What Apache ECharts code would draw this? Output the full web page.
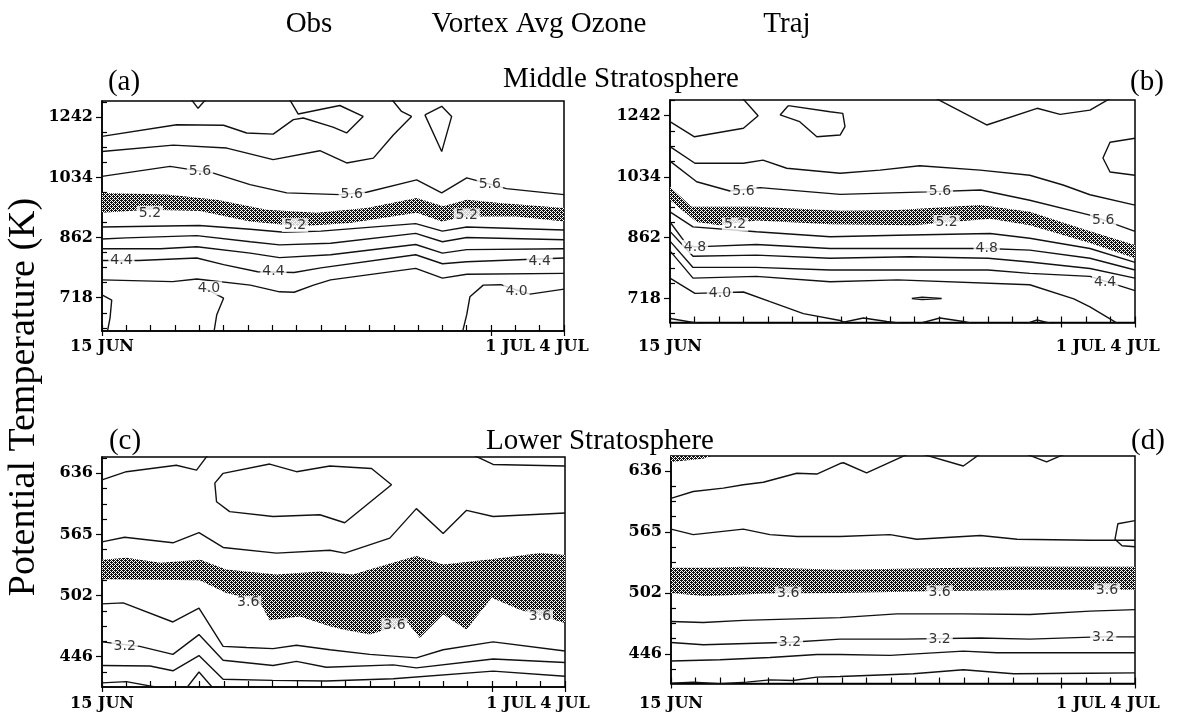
<!DOCTYPE html>
<html>
<head>
<meta charset="utf-8">
<script src="https://cdn.jsdelivr.net/npm/echarts@6/dist/echarts.min.js"></script>
<style>
  html, body { margin: 0; padding: 0; background: #fff; }
  #chart { width: 1181px; height: 717px; }
</style>
</head>
<body>
<div id="chart"></div>
<script>
// Time axis: days since 15 June; vertical axis: potential temperature (K), log-spaced.
const dayTicks = [0, 16, 19];
const dayTickLabels = ['15 JUN', '1 JUL', '4 JUL'];
const thetaTicksMiddle = [718, 862, 1034, 1242];
const thetaTicksLower = [446, 502, 565, 636];

// ---- (a) Obs, middle stratosphere: contour lines as [day, theta] ----
const obsMidLines = [
  [[3.6,1320],[3.95,1276],[4.35,1320]],
  [[0,1172],[3.07,1214],[5.0,1212],[5.95,1184],[7.04,1180],[7.87,1233],[8.28,1239],[9.5,1205],[10.06,1184],[10.74,1245],[9.78,1287],[8.07,1254],[7.66,1320]],
  [[0,1119],[2.93,1141],[5.13,1131],[7.04,1092],[8.96,1122],[10.06,1081],[11.16,1097],[11.98,1177],[12.73,1245],[12.32,1264],[11.84,1320]],
  [[13.28,1251],[13.97,1284],[14.38,1245],[13.97,1119],[13.28,1251]],
  [[0,1038],[2.8,1070],[4.58,1048],[6.09,1012],[7.6,987],[9.79,982],[10.88,989],[12.94,1027],[13.97,987],[15.0,1033],[16.63,1000],[19,982]],
  [[0,890],[4,894],[6.1,884],[7.5,876],[9,879],[12.9,899],[14,879],[15,890],[19,882]],
  [[0,858],[1,861],[3.9,867],[6.1,851],[7.3,843],[9.4,847],[12.9,873],[14,851],[15,862],[19,856]],
  [[0,833],[2.4,833],[3.9,838],[6.1,822],[7.3,811],[9.4,818],[12.9,844],[14,822],[15,831],[19,833]],
  [[0,804],[1.5,804],[3.9,810],[5,794],[6.4,777],[7.9,775],[9,786],[12.9,818],[14,796],[15,801],[19,810]],
  [[0,758],[2.9,754],[3.9,760],[6.1,746],[7.3,731],[7.9,730],[8.7,746],[9.4,758],[12.9,785],[14,762],[15,771],[19,773]],
  [[14.79,640],[15.0,682],[15.13,720],[15.68,746],[16.4,747],[17.05,735],[17.6,726],[19,737]],
  [[4.25,738],[5.0,717],[4.72,682],[4.58,640]],
  [[0,724],[0.4,713],[0.33,675],[0.19,640]]
];
const obsMidBandTop = [[0,987],[2.66,982],[4.72,967],[6.77,938],[8.83,929],[10.88,943],[12.94,972],[14.03,948],[15,967],[16.37,957],[19,943]];
const obsMidBandBottom = [[0,929],[1.97,938],[4.03,934],[6.09,905],[8.14,892],[10.2,901],[12.94,929],[13.97,905],[15,919],[17.05,919],[19,905]];
const obsMidLabels = [
  [4.03,1054,'5.6'],[10.27,984,'5.6'],[15.95,1013,'5.6'],
  [1.97,929,'5.2'],[7.94,895,'5.2'],[15,922,'5.2'],
  [0.8,804,'4.4'],[7.05,777,'4.4'],[18,803,'4.4'],
  [4.4,739,'4.0'],[17.05,733,'4.0']
];

// ---- (b) Traj, middle stratosphere ----
const trajMidLines = [
  [[2.86,1320],[3.6,1242],[3.0,1196],[1.0,1166],[0,1220]],
  [[4.83,1280],[4.5,1245],[5.3,1220],[6.0,1166],[6.95,1172],[7.15,1202],[7.06,1251],[6.54,1257],[4.83,1280]],
  [[10.63,1320],[12.94,1208],[15,1270],[15.94,1247],[17.16,1263],[18.2,1320]],
  [[19,1161],[17.98,1147],[17.69,1094],[17.98,1049],[19,1039]],
  [[0,1132],[1.02,1077],[3.0,1077],[3.8,1087],[4.77,1061],[6.95,1045],[8.58,1055],[10.2,1069],[12.67,1055],[14.7,1039],[16.06,1009],[17.16,980],[19,950]],
  [[0,1084],[1.09,1019],[2.45,991],[3.68,1001],[6.95,981],[10.5,988.5],[12.7,994],[14.7,964],[17.16,922],[19,878]],
  [[0,931],[0.94,890],[3.53,877],[6.54,864],[9.3,868],[13.08,872.5],[14.7,860],[17.16,834],[19,800]],
  [[0,903],[0.7,842.5],[1.02,838],[3.53,844],[6.54,834],[12.94,834],[14.7,830],[17.16,810],[19,782]],
  [[0,878],[0.94,815],[3.53,817.5],[6.54,810],[9.8,813.5],[13,810],[14.7,801],[17.16,785.5],[19,763]],
  [[0,852.6],[0.94,788],[3.53,788],[6.54,782],[13,782],[14.7,774],[17.16,767],[19,735]],
  [[0,828],[0.94,763],[3.53,767],[6.54,755],[9.3,759],[14.7,748],[16.5,717],[17.16,700],[18.5,660]],
  [[0,763],[1.02,729],[3.0,732],[4.09,711],[5.45,686],[6.95,672],[7.5,660]],
  [[0,676],[1.7,662]],
  [[6.54,663],[7.9,677],[8.86,670],[9.94,663],[11.03,677],[11.99,670],[12.94,660],[14.2,660],[15.0,673],[15.9,662]],
  [[9.88,718],[10.3,720.5],[11.1,718],[10.3,715.5],[9.88,718]]
];
const trajMidBandTop = [[0,1004],[0.88,945],[3.53,945],[6.95,934],[9.3,936],[12.67,950],[14.7,931],[17.16,878],[19,843]];
const trajMidBandBottom = [[0,964],[1.09,903],[2.04,894],[3.53,907],[6.54,897],[9.94,894],[13.08,912],[14.7,894],[17.16,848],[19,810]];
const trajMidLabels = [
  [3.0,991,'5.6'],[11.03,990,'5.6'],[17.7,908,'5.6'],
  [2.66,896,'5.2'],[11.3,903,'5.2'],
  [1.02,838,'4.8'],[12.94,834,'4.8'],
  [17.78,753,'4.4'],
  [2.04,729,'4.0']
];

// ---- (c) Obs, lower stratosphere ----
const obsLowLines = [
  [[0,628],[1,638],[3.05,646],[3.88,640],[4.49,665]],
  [[4.97,636],[6.88,647.5],[7.98,638],[9.35,645],[11.06,642],[11.88,622],[9.96,578],[8.94,587],[7.02,585],[5.24,590.5],[4.7,602],[4.63,624],[4.97,636]],
  [[14.82,665],[16.05,647],[19,645]],
  [[0,557],[0.93,562],[2.91,556],[3.98,567],[4.97,551],[7.16,545],[9.35,548],[9.96,545],[11.81,561],[12.9,594],[14.0,566],[14.96,592],[16.05,585],[19,589]],
  [[0,494],[0.87,495],[2.91,477],[3.98,490],[4.97,455],[5.93,454],[7.02,453],[7.98,456],[9.35,452],[10.99,448],[12.9,445],[14.0,452],[16.05,459],[19,451]],
  [[0,459],[1.55,455],[2.91,448],[3.98,465.5],[4.97,443],[7.02,438.5],[7.98,442],[9.2,437],[11.95,439],[12.9,436.5],[16.05,444],[19,441]],
  [[0,438.5],[1.97,438],[2.91,434],[3.98,447],[4.97,427],[7,426],[9.2,425.5],[11.95,427.4],[16.05,433.7],[19,429.5]],
  [[0,424],[1,425],[2.91,418]],
  [[3.4,418],[3.98,433],[4.63,418]]
];
const obsLowBandTop = [[0,538],[1,540],[2.4,535],[4.04,538],[5.1,528],[7.16,523],[8.94,526],[10.3,523],[11.68,533],[12.9,542],[14,533],[15.8,538],[18,545],[19,543]];
const obsLowBandBottom = [[0,518],[4.01,517],[5.1,504.5],[5.93,500],[6.54,493],[6.88,478.5],[8.12,482],[9.35,473],[9.89,470],[10.99,465.5],[12.56,476],[13.04,462.5],[14.0,484],[14.96,470],[15.99,500],[17.15,488.5],[19,476]];
const obsLowLabels = [
  [6.0,495,'3.6'],[12.0,474,'3.6'],[17.97,482,'3.6'],
  [0.93,455,'3.2']
];

// ---- (d) Traj, lower stratosphere ----
const trajLowLines = [
  [[0,603],[0.91,611],[2.14,615],[2.96,619],[3.78,622],[5.15,633],[5.97,632],[6.92,645],[7.06,646],[8.01,633.5],[9.92,660]],
  [[9.95,660],[11.97,642],[12.79,660]],
  [[14.3,660],[15.38,647],[16.34,660]],
  [[19,577.5],[18.3,574],[18.18,557],[18.47,550],[19,549]],
  [[0,568],[0.91,562],[2.96,568],[4.05,562],[5.15,560],[6.92,560],[8.97,562],[10.06,557],[12.67,561],[14.17,557],[17.16,556],[19,556]],
  [[0,475],[1.32,474],[2.96,476],[6.92,478.5],[9.24,482],[11.97,482],[14.7,481.5],[17.16,484.6],[19,486]],
  [[0,456],[1.32,454],[4.9,456.3],[6.92,459],[9.5,459],[12.67,460],[14.7,459],[17.5,461],[19,461]],
  [[0,440],[2.0,441],[4.05,443],[5.97,445.6],[6.92,445.6],[8.97,444.8],[11.97,448.5],[13.34,447],[19,447]],
  [[0,421.5],[0.91,422.3],[2.0,421],[3.1,422.3],[4.05,424.2],[5.0,423.7],[5.97,426.4],[6.92,427],[9.92,429.2],[11.97,432.6],[14.02,429.2],[17.16,429.7],[19,430]]
];
const trajLowBandTop = [[0,527],[1.73,527],[2.96,528],[4.05,527],[6.92,525],[11.97,527],[14.02,528],[19,528]];
const trajLowBandBottom = [[0,502],[1.32,499],[2.14,499.5],[3.78,501.4],[6.92,502],[10.6,503.6],[14.7,505],[19,505]];
const trajLowCornerTop = [[0,660],[1.8,660]];
const trajLowCornerBottom = [[0,647],[1.3,651],[1.8,656]];
const trajLowLabels = [
  [4.8,501.4,'3.6'],[11.0,502.5,'3.6'],[17.85,504.5,'3.6'],
  [4.87,456,'3.2'],[11.0,459.2,'3.2'],[17.7,461,'3.2']
];

// ---- panel layout ----
const panels = [
  { lines: obsMidLines, bands: [[obsMidBandTop, obsMidBandBottom]], labels: obsMidLabels,
    ticks: thetaTicksMiddle, range: [649, 1304.7], box: { left: 102, top: 101, width: 462, height: 230 }, xMargin: 8 },
  { lines: trajMidLines, bands: [[trajMidBandTop, trajMidBandBottom]], labels: trajMidLabels,
    ticks: thetaTicksMiddle, range: [668, 1302], box: { left: 670, top: 100, width: 465, height: 222.5 }, xMargin: 16 },
  { lines: obsLowLines, bands: [[obsLowBandTop, obsLowBandBottom]], labels: obsLowLabels,
    ticks: thetaTicksLower, range: [420.6, 656.4], box: { left: 102, top: 457, width: 463, height: 230 }, xMargin: 9 },
  { lines: trajLowLines, bands: [[trajLowBandTop, trajLowBandBottom], [trajLowCornerTop, trajLowCornerBottom]], labels: trajLowLabels,
    ticks: thetaTicksLower, range: [421.2, 654.5], box: { left: 671, top: 456, width: 464, height: 227.5 }, xMargin: 12 }
];

// Stippled fill used for the shaded ozone band
function stipple() {
  const c = document.createElement('canvas');
  c.width = 4; c.height = 4;
  const g = c.getContext('2d');
  g.fillStyle = '#fff'; g.fillRect(0, 0, 4, 4);
  g.fillStyle = '#111';
  for (let y = 0; y < 4; y++) for (let x = 0; x < 4; x++) if ((x + y) % 2 === 0) g.fillRect(x, y, 1, 1);
  g.fillRect(1, 0, 1, 1); g.fillRect(3, 2, 1, 1);
  return c;
}
const bandFill = { image: stipple(), repeat: 'repeat' };

const toXY = p => [p[0], Math.log(p[1])];
const black = '#000';
const tickFont = { fontFamily: 'DejaVu Serif', fontWeight: 'bold', fontSize: 16, color: black };

function minorTicks(ticks, lo, hi) {
  const l = ticks.map(Math.log);
  const step = (l[l.length - 1] - l[0]) / (l.length - 1) / 4;
  const out = [];
  for (let k = -12; k <= 24; k++) {
    const v = l[0] + k * step;
    if (v > Math.log(lo) && v < Math.log(hi) && k % 4 !== 0) out.push(v);
  }
  return out;
}

const grid = [], xAxis = [], yAxis = [], series = [];
panels.forEach((p, i) => {
  grid.push(Object.assign({ show: true, borderColor: black, borderWidth: 1.5, backgroundColor: 'transparent' }, p.box));
  xAxis.push({
    type: 'value', gridIndex: i, min: 0, max: 19, interval: 1, position: 'bottom',
    axisLine: { show: true, onZero: false, lineStyle: { color: black, width: 1.5 } },
    axisTick: { show: true, inside: true, length: 6, lineStyle: { color: black, width: 1.2 } },
    axisLabel: Object.assign({
      show: true, customValues: dayTicks, margin: p.xMargin,
      formatter: v => {
        const s = dayTickLabels[dayTicks.indexOf(v)];
        return v === 16 ? '{shift|' + s + '}' : s;
      },
      rich: { shift: Object.assign({ padding: [0, 0, 0, 38] }, tickFont) }
    }, tickFont),
    splitLine: { show: false }
  });
  xAxis.push({
    type: 'value', gridIndex: i, min: 0, max: 19, position: 'bottom',
    axisLine: { show: false },
    axisTick: { show: true, inside: false, length: 5, customValues: dayTicks, lineStyle: { color: black, width: 1.2 } },
    axisLabel: { show: false }, splitLine: { show: false }
  });
  const major = p.ticks.map(Math.log);
  yAxis.push({
    type: 'value', gridIndex: i, min: Math.log(p.range[0]), max: Math.log(p.range[1]), position: 'left',
    axisLine: { show: true, onZero: false, lineStyle: { color: black, width: 1.5 } },
    axisTick: { show: true, inside: false, length: 6, customValues: major, lineStyle: { color: black, width: 1.2 } },
    axisLabel: Object.assign({
      show: true, customValues: major, margin: 9,
      formatter: v => String(p.ticks[major.findIndex(m => Math.abs(m - v) < 1e-6)])
    }, tickFont),
    splitLine: { show: false }
  });
  yAxis.push({
    type: 'value', gridIndex: i, min: Math.log(p.range[0]), max: Math.log(p.range[1]), position: 'left',
    axisLine: { show: false },
    axisTick: { show: true, inside: true, length: 5, customValues: minorTicks(p.ticks, p.range[0], p.range[1]), lineStyle: { color: black, width: 1.2 } },
    axisLabel: { show: false }, splitLine: { show: false }
  });

  const xi = 2 * i, yi = 2 * i;
  p.bands.forEach(([top, bottom]) => {
    series.push({
      type: 'custom', xAxisIndex: xi, yAxisIndex: yi, clip: true, silent: true, z: 2,
      data: [toXY(top[0])],
      renderItem: (params, api) => {
        const pts = top.map(q => api.coord(toXY(q)))
          .concat(bottom.slice().reverse().map(q => api.coord(toXY(q))));
        return { type: 'polygon', shape: { points: pts }, style: { fill: bandFill, stroke: null } };
      }
    });
  });
  p.lines.forEach(pts => {
    series.push({
      type: 'line', xAxisIndex: xi, yAxisIndex: yi, data: pts.map(toXY),
      symbol: 'none', clip: true, silent: true, z: 3,
      lineStyle: { color: '#111', width: 1.4 }
    });
  });
  series.push({
    type: 'scatter', xAxisIndex: xi, yAxisIndex: yi, z: 5, silent: true,
    symbolSize: 1, itemStyle: { color: 'rgba(0,0,0,0)' },
    data: p.labels.map(([d, t, s]) => ({ value: [d, Math.log(t)], name: s })),
    label: {
      show: true, position: 'inside', formatter: '{b}',
      fontFamily: 'DejaVu Sans', fontSize: 14, color: black,
      backgroundColor: '#fff', padding: [0, 2]
    }
  });
});

const serif = size => size + 'px "Liberation Serif", "Times New Roman", serif';
const text = (x, y, str, size, extra) => Object.assign({
  type: 'text', x, y, silent: true,
  style: { text: str, font: serif(size), fill: black, textAlign: 'center', textVerticalAlign: 'middle' }
}, extra || {});

const chart = echarts.init(document.getElementById('chart'), null, { renderer: 'canvas' });
chart.setOption({
  animation: false,
  backgroundColor: '#fff',
  grid, xAxis, yAxis, series,
  graphic: [
    text(309, 24, 'Obs', 29),
    text(539, 24, 'Vortex Avg Ozone', 29),
    text(787, 24, 'Traj', 29),
    text(621, 79, 'Middle Stratosphere', 29),
    text(600, 441, 'Lower Stratosphere', 29),
    text(124, 82, '(a)', 29),
    text(1147, 82, '(b)', 29),
    text(125, 441, '(c)', 29),
    text(1148, 441, '(d)', 29),
    text(24, 397, 'Potential Temperature (K)', 38, { rotation: Math.PI / 2 })
  ]
});
</script>
</body>
</html>
